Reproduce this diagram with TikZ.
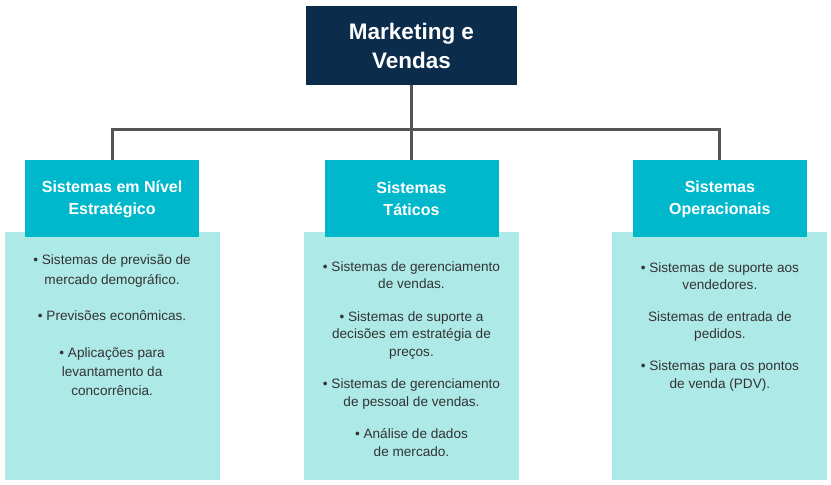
\documentclass[tikz,border=0pt]{standalone}
\usepackage{fontspec}
\setmainfont{Liberation Sans}
\usetikzlibrary{positioning,backgrounds}
\definecolor{navy}{HTML}{0B2C4A}
\definecolor{tealhead}{HTML}{00B8CC}
\definecolor{lightaqua}{HTML}{ADE9E6}
\definecolor{linegray}{HTML}{555555}
\definecolor{bodytext}{HTML}{333333}
\tikzstyle{topblock} = [rectangle, fill=navy, text=white, align=center,
    font=\bfseries\fontsize{22.5}{29}\selectfont, minimum width=211pt, minimum height=79pt]
\tikzstyle{head} = [rectangle, fill=tealhead, text=white, align=center,
    font=\bfseries\fontsize{16}{22}\selectfont, minimum width=174pt, minimum height=77pt]
\tikzstyle{body} = [rectangle, fill=lightaqua, minimum width=215pt, minimum height=248pt]
\tikzstyle{items} = [text=bodytext, align=center, font=\fontsize{13.6}{17.5}\selectfont]
\tikzstyle{line} = [draw, linegray, line width=3pt]

\begin{document}
\begin{tikzpicture}[x=1pt, y=-1pt]
		\useasboundingbox (0,0) rectangle (831,485);
		\node [topblock] (top) at (411.5,45.5) {Marketing e\\Vendas};
		\node [head, below=75pt of top] (tat) {Sistemas\\Táticos};
		\node [head, left=125pt of tat] (est) {Sistemas em Nível\\Estratégico};
		\node [head, right=134pt of tat] (ope) {Sistemas\\Operacionais};
		\coordinate [below=44pt of top.south] (j);
		
		\begin{scope}[on background layer]
		\node [body, below=-6pt of est] (estb) {};
		\node [body, below=-6pt of tat] (tatb) {};
		\node [body, below=-6pt of ope] (opeb) {};
		\end{scope}
		
		\node [items, font=\fontsize{13.6}{19.2}\selectfont, below=20pt of estb.north] (estl) {%
			• Sistemas de previsão de\\mercado demográfico.\\[17pt]
			• Previsões econômicas.\\[18pt]
			• Aplicações para\\levantamento da\\concorrência.};
		\node [items, below=26.5pt of tatb.north] (tatl) {%
			• Sistemas de gerenciamento\\de vendas.\\[15pt]
			• Sistemas de suporte a\\decisões em estratégia de\\preços.\\[15pt]
			• Sistemas de gerenciamento\\de pessoal de vendas.\\[15pt]
			• Análise de dados\\de mercado.};
		\node [items, below=27.5pt of opeb.north] (opel) {%
			• Sistemas de suporte aos\\vendedores.\\[14pt]
			Sistemas de entrada de\\pedidos.\\[14.5pt]
			• Sistemas para os pontos\\de venda (PDV).};
		
		\path [line] (top.south) -- (tat.north);
		\path [line] (est.north) |- (j) -| (ope.north);
	\end{tikzpicture}
\end{document}
